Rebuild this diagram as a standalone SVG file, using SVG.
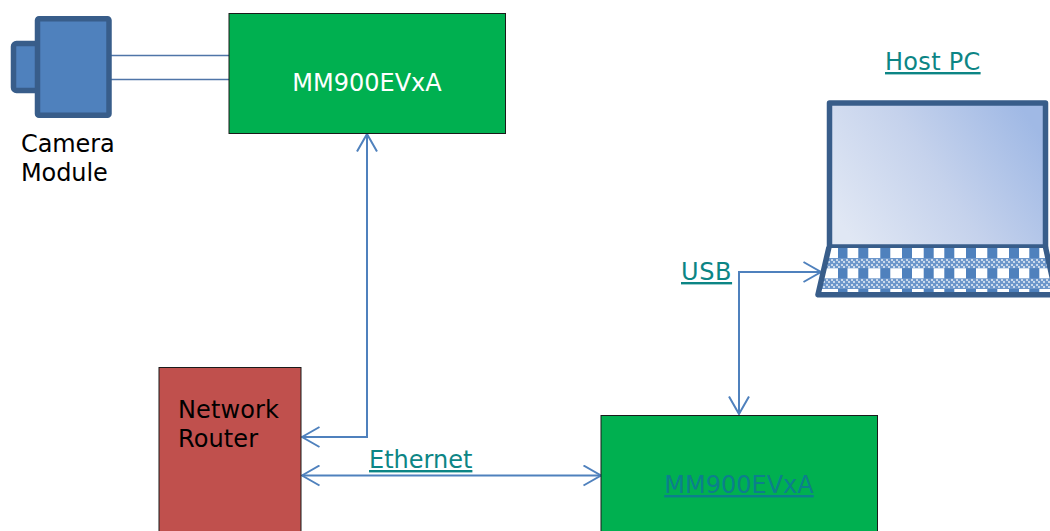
<svg xmlns="http://www.w3.org/2000/svg" width="1050" height="531" viewBox="0 0 1050 531">
<style>
text{font-family:"DejaVu Sans",Verdana,sans-serif;font-size:24px;fill:#000}
.link{fill:#0c8585;text-decoration:underline}
.box{fill:#00b050;stroke:#1a1a1a;stroke-width:1}
.conn{fill:none;stroke:#4f81bd;stroke-width:2}
.wire{fill:none;stroke:#4f75a8;stroke-width:1.300}
.shell{fill:#4f81bd;stroke:#385d8a;stroke-width:5.500;stroke-linejoin:round}
</style>
<defs>
<linearGradient id="screen" x1="0" y1="0.72" x2="1" y2="0.28">
<stop offset="0" stop-color="#e0e7f4"/><stop offset="0.5" stop-color="#c5d2ec"/><stop offset="1" stop-color="#a0b9e5"/>
</linearGradient>
<pattern id="dither" width="5" height="5" patternUnits="userSpaceOnUse" x="815" y="258">
<rect width="5" height="5" fill="#6d97cb"/><rect x="1" y="1" width="2" height="2" fill="#c9d9ec"/><rect x="3" y="3" width="2" height="2" fill="#c9d9ec"/>
</pattern>
<marker id="open" viewBox="0 0 20 22" refX="18.500" refY="11" markerWidth="20" markerHeight="22" markerUnits="userSpaceOnUse" orient="auto-start-reverse">
<path d="M1 1 L18.500 11 L1 21" fill="none" stroke="#4f81bd" stroke-width="2"/>
</marker>
<clipPath id="kb"><path d="M828 248H1050V294H820Z"/></clipPath>
</defs>
<g id="connectors">
<path class="wire" d="M111 55.500H229M111 79.500H229"/>
<path class="conn" d="M367 134V437H302" marker-start="url(#open)" marker-end="url(#open)"/>
<path class="conn" d="M302 475.500H601" marker-start="url(#open)" marker-end="url(#open)"/>
<path class="conn" d="M739 414V272H821" marker-start="url(#open)" marker-end="url(#open)"/>
</g>
<g id="camera-module">
<rect class="shell" x="13.500" y="43.500" width="26" height="47" rx="3"/>
<rect class="shell" x="37.500" y="18.700" width="71.500" height="96.600" rx="1.500"/>
<text x="21" y="152" letter-spacing="-0.100">Camera</text>
<text x="21" y="181" letter-spacing="-0.100">Module</text>
</g>
<g id="mm900-top">
<rect class="box" x="229" y="13.500" width="276.500" height="120"/>
<text x="367" y="91" text-anchor="middle" style="fill:#fff">MM900EVxA</text>
</g>
<g id="network-router">
<rect x="159" y="367.500" width="142" height="170" fill="#c0504d" stroke="#1a1a1a"/>
<text x="178" y="418" letter-spacing="0.100">Network</text>
<text x="178" y="447" letter-spacing="0.100">Router</text>
</g>
<g id="ethernet-label"><text class="link" x="369" y="468">Ethernet</text></g>
<g id="mm900-bottom">
<rect class="box" x="601" y="415.500" width="276.500" height="125"/>
<text class="link" x="739" y="493" text-anchor="middle" style="fill:#0c7f8c">MM900EVxA</text>
</g>
<g id="usb-label"><text class="link" x="681" y="280" letter-spacing="0.600">USB</text></g>
<g id="host-pc">
<text class="link" x="885" y="70" letter-spacing="0.300">Host PC</text>
<rect x="829.500" y="103" width="216" height="144" fill="url(#screen)" stroke="#385d8a" stroke-width="5.500" stroke-linejoin="round"/>
<g clip-path="url(#kb)">
<rect x="815" y="246" width="235" height="50" fill="#fff"/>
<path fill="#4f81bd" d="M838 248h9.500v46h-9.500zM858.300 248h10v46h-10zM880.300 248h10v46h-10zM902 248h10v46h-10zM923.700 248h10v46h-10zM944.300 248h10v46h-10zM966 248h10v46h-10zM987.300 248h10v46h-10zM1009 248h10v46h-10zM1029.300 248h10v46h-10z"/>
<rect x="815" y="258" width="235" height="10.300" fill="url(#dither)"/>
<rect x="815" y="278.300" width="235" height="10.700" fill="url(#dither)"/>
</g>
<path d="M829 247L818 294.700H1056L1045.500 247" fill="none" stroke="#385d8a" stroke-width="5.500" stroke-linejoin="round"/>
</g>
</svg>
